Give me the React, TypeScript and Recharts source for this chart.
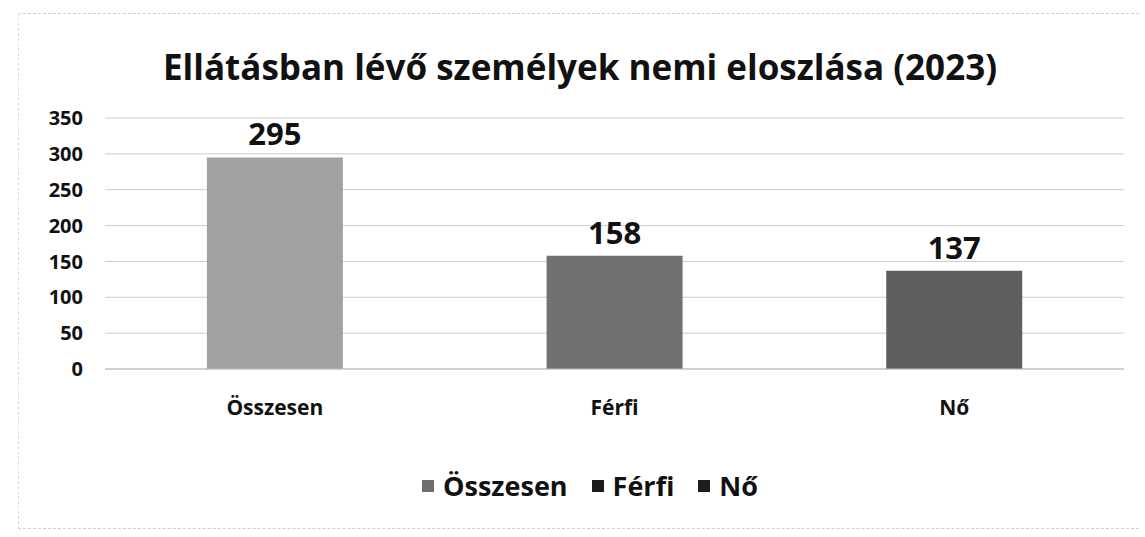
import { BarChart, Bar, XAxis, YAxis, CartesianGrid, Cell, LabelList } from "recharts";

const categories = ["Összesen", "Férfi", "Nő"];
const values = [295, 158, 137];
const yTicks = [0, 50, 100, 150, 200, 250, 300, 350];
const barColors = ["#a2a2a2", "#717171", "#5f5f5f"];
const legendColors = ["#6e6e6e", "#1c1c1c", "#1c1c1c"];

const data = categories.map((name, i) => ({ name, value: values[i] }));

const font = "'Open Sans', 'Noto Sans', sans-serif";

export default function App() {
  return (
    <div
      style={{
        position: "absolute",
        left: 0,
        top: 0,
        width: 1145,
        height: 537,
        background: "#fff",
        fontFamily: font,
        color: "#111",
      }}
    >
      <div
        style={{
          position: "absolute",
          left: 18,
          top: 13,
          width: 1120,
          height: 514,
          borderTop: "1px dashed #cfcfcf",
          borderLeft: "1px dashed #dcdcdc",
          borderBottom: "1px dashed #cfcfcf",
        }}
      />
      <div
        style={{
          position: "absolute",
          left: 0,
          width: 1160,
          top: 43,
          textAlign: "center",
          fontSize: 35,
          fontWeight: 700,
        }}
      >
        Ellátásban lévő személyek nemi eloszlása (2023)
      </div>
      <BarChart
        width={1145}
        height={537}
        data={data}
        margin={{ top: 118, right: 21, bottom: 108, left: 0 }}
        barCategoryGap="30%"
        style={{ position: "absolute", left: 0, top: 0 }}
      >
        <CartesianGrid vertical={false} stroke="#cccccc" />
        <XAxis
          dataKey="name"
          height={60}
          tickLine={false}
          axisLine={{ stroke: "#bdbdbd" }}
          tickSize={0}
          tickMargin={31}
          tick={{ fill: "#111", fontSize: 21, fontWeight: 700, fontFamily: font }}
        />
        <YAxis
          width={105}
          domain={[0, 350]}
          ticks={yTicks}
          axisLine={false}
          tickLine={false}
          tickSize={0}
          tickMargin={22}
          tick={{ fill: "#111", fontSize: 20, fontWeight: 700, fontFamily: font }}
        />
        <Bar dataKey="value" isAnimationActive={false}>
          {data.map((_, i) => (
            <Cell key={i} fill={barColors[i]} />
          ))}
          <LabelList
            dataKey="value"
            position="top"
            offset={12}
            style={{ fill: "#111", fontSize: 31, fontWeight: 700, fontFamily: font }}
          />
        </Bar>
      </BarChart>
      <div
        style={{
          position: "absolute",
          left: 0,
          width: 1180,
          top: 467,
          display: "flex",
          justifyContent: "center",
          gap: 24,
          fontSize: 27,
          fontWeight: 700,
        }}
      >
        {categories.map((c, i) => (
          <span key={c} style={{ display: "flex", alignItems: "center" }}>
            <span
              style={{
                display: "inline-block",
                width: 12,
                height: 12,
                background: legendColors[i],
                marginRight: 9,
              }}
            />
            {c}
          </span>
        ))}
      </div>
    </div>
  );
}
